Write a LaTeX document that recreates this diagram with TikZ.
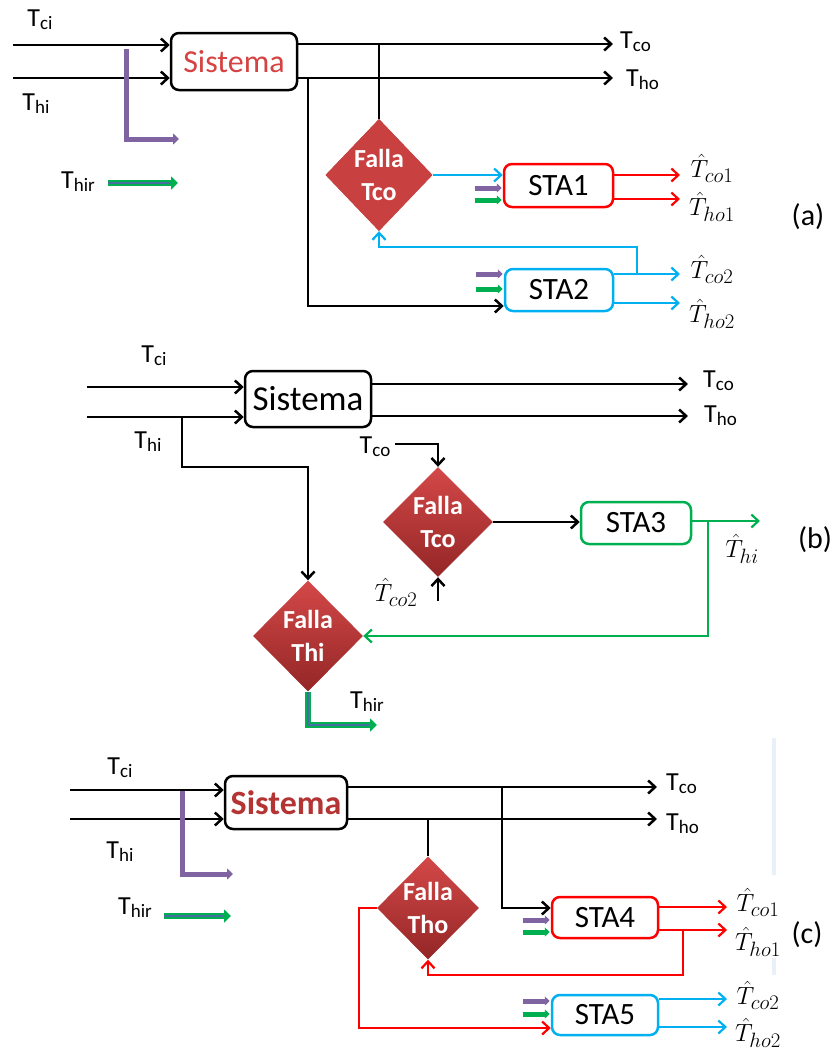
\documentclass[tikz,border=0pt]{standalone}
\usepackage{fontspec}
\setmainfont{Carlito}
\usetikzlibrary{shapes.geometric,arrows.meta}
\definecolor{cyanA}{RGB}{0,176,240}
\definecolor{redA}{RGB}{255,0,0}
\definecolor{greenA}{RGB}{0,176,80}
\definecolor{purpA}{RGB}{128,100,162}
\definecolor{sisRed}{RGB}{214,66,66}
\definecolor{sisDark}{RGB}{180,52,52}
\definecolor{dmFlat}{RGB}{200,64,64}
\definecolor{dmTop}{RGB}{212,72,72}
\definecolor{dmBot}{RGB}{148,38,38}
\definecolor{slate}{RGB}{70,110,160}
\definecolor{faint}{RGB}{234,240,247}
\newcommand{\tv}[1]{T\raisebox{-3pt}{\fontsize{19}{19}\selectfont #1}}
\begin{document}
\begin{tikzpicture}[x=1pt,y=-1pt,
 ln/.style={line width=2.5},
 arr/.style={line width=2.5,-{Straight Barb[length=7,width=13]}},
 rarr/.style={redA,line width=2.2,-{Straight Barb[length=7,width=13]}},
 carr/.style={cyanA,line width=2.2,-{Straight Barb[length=7,width=13]}},
 garr/.style={greenA,line width=2.2,-{Straight Barb[length=7,width=13]}},
 purL/.style={purpA,line width=5,-{Triangle[length=6,width=11]}},
 grL/.style={greenA,line width=6,-{Triangle[length=7,width=13]}},
 spur/.style={purpA,line width=5,-{Triangle[length=5,width=9]}},
 sgr/.style={greenA,line width=5,-{Triangle[length=5,width=9]}},
 box/.style={draw,rounded corners=8,line width=2.5,fill=white,inner sep=0,font=\fontsize{31}{32}\selectfont},
 fault/.style={diamond,inner sep=0,top color=dmTop,bottom color=dmBot,text=white,align=center,font=\bfseries\fontsize{26}{33}\selectfont},
 faultflat/.style={fault,fill=dmFlat,top color=dmFlat,bottom color=dmFlat},
 lbl/.style={inner sep=0,font=\fontsize{26}{27}\selectfont},
 hl/.style={inner sep=0,font=\fontsize{29}{30}\selectfont},
 tag/.style={inner sep=0,font=\fontsize{30}{31}\selectfont}]
\useasboundingbox (0,0) rectangle (831,1053);

%% (a)
\node[box,text=sisRed,font=\fontsize{32}{33}\selectfont,minimum width=126,minimum height=57] (sisA) at (234,61.5) {Sistema};
\node[faultflat,minimum width=107,minimum height=112] (fltA) at (379,175) {Falla\\Tco};
\node[box,draw=redA,minimum width=109,minimum height=43] (sta1) at (558.5,185.5) {STA1};
\node[box,draw=cyanA,minimum width=108,minimum height=42] (sta2) at (559,290) {STA2};
\node[lbl] (tciA) at (40,20) {\tv{ci}};
\node[lbl] (thiA) at (36,104) {\tv{hi}};
\node[lbl] (thirA) at (78,182) {\tv{hir}};
\node[lbl,anchor=west] (tcoA) at (620,42) {\tv{co}};
\node[lbl,anchor=west] (thoA) at (626,80) {\tv{ho}};
\node[hl] (hco1A) at (712,168) {$\hat{T}_{co1}$};
\node[hl] (hho1A) at (712,207) {$\hat{T}_{ho1}$};
\node[hl] (hco2A) at (712,269) {$\hat{T}_{co2}$};
\node[hl] (hho2A) at (712,314) {$\hat{T}_{ho2}$};
\node[tag] (tagA) at (808,217) {(a)};
\coordinate (sciA) at (13,45);
\coordinate (shiA) at (13,78);
\coordinate (ecoA) at (613,44);
\coordinate (ehoA) at (613,78);
\draw[arr] (sciA) -- (sciA -| sisA.west);
\draw[arr] (shiA) -- (shiA -| sisA.west);
\draw[arr] (sisA.east |- ecoA) -- (ecoA);
\draw[arr] (sisA.east |- ehoA) -- (ehoA);
\draw[ln] (fltA.north) -- (fltA.north |- ecoA);
\coordinate (brA) at (308,78);
\draw[arr] (brA) |- ([yshift=-16]sta2.west);
\draw[carr] (fltA.east) -- (fltA.east -| sta1.west);
\coordinate (eco1A) at (680,175);
\coordinate (eho1A) at (680,199);
\coordinate (eco2A) at (680,274);
\coordinate (eho2A) at (680,303);
\draw[rarr] (sta1.east |- eco1A) -- (eco1A);
\draw[rarr] (sta1.east |- eho1A) -- (eho1A);
\draw[carr] (sta2.east |- eco2A) -- (eco2A);
\draw[carr] (sta2.east |- eho2A) -- (eho2A);
\coordinate (fbA) at (637,274);
\draw[carr] (fbA) -- (fbA |- 0,247) -| (fltA.south);
\coordinate (pA1) at (126,49);
\coordinate (pA2) at (179,139);
\draw[purL] (pA1) |- (pA2);
\coordinate (gA1) at (108,183);
\coordinate (gA2) at (178,183);
\draw[grL] (gA1) -- (gA2);
\draw[slate,line width=1.5] (gA1) -- ([xshift=-8]gA2);

%% (b)
\node[box,font=\fontsize{35}{36}\selectfont,minimum width=126,minimum height=56] (sisB) at (308,399) {Sistema};
\node[fault,minimum width=110,minimum height=110] (fltB) at (438,522) {Falla\\Tco};
\node[box,draw=greenA,minimum width=110,minimum height=42] (sta3) at (636,523) {STA3};
\node[fault,minimum width=110,minimum height=111] (fltC) at (308,636) {Falla\\Thi};
\node[lbl] (tciB) at (154,356) {\tv{ci}};
\node[lbl] (thiB) at (148,442) {\tv{hi}};
\node[lbl,anchor=west] (tcoB) at (703,381) {\tv{co}};
\node[lbl,anchor=west] (thoB) at (704,416) {\tv{ho}};
\node[lbl] (tinB) at (375,447) {\tv{co}};
\node[hl] (hco2B) at (396,592) {$\hat{T}_{co2}$};
\node[hl] (hhiB) at (742,549) {$\hat{T}_{hi}$};
\node[lbl] (thirB) at (367,702) {\tv{hir}};
\node[tag] (tagB) at (815,540) {(b)};
\coordinate (sciB) at (87,387);
\coordinate (shiB) at (87,417);
\coordinate (ecoB) at (688,384);
\coordinate (ehoB) at (688,416);
\draw[arr] (sciB) -- (sciB -| sisB.west);
\draw[arr] (shiB) -- (shiB -| sisB.west);
\draw[arr] (sisB.east |- ecoB) -- (ecoB);
\draw[arr] (sisB.east |- ehoB) -- (ehoB);
\coordinate (brB) at (182,417);
\draw[arr] (brB) -- (brB |- 0,467) -| (fltC.north);
\coordinate (inB) at (395,444);
\draw[arr] (inB) -| (fltB.north);
\coordinate (in2B) at (438,601);
\draw[arr] (in2B) -- (fltB.south);
\draw[arr] (fltB.east) -- (fltB.east -| sta3.west);
\coordinate (ehiB) at (760,521);
\draw[garr] (sta3.east |- ehiB) -- (ehiB);
\coordinate (fbB) at (708,521);
\draw[garr] (fbB) |- (fltC.east);
\coordinate (thirE) at (377,725);
\draw[grL] (fltC.south) |- (thirE);
\draw[slate,line width=1.5] (fltC.south) |- ([xshift=-8]thirE);

%% (c)
\node[box,text=sisDark,font=\bfseries\fontsize{34}{35}\selectfont,minimum width=122,minimum height=53] (sisC) at (286,802.5) {Sistema};
\node[fault,minimum width=102,minimum height=103] (fltD) at (428,908) {Falla\\Tho};
\node[box,draw=redA,minimum width=106,minimum height=41] (sta4) at (605,917.5) {STA4};
\node[box,draw=cyanA,minimum width=106,minimum height=40] (sta5) at (605,1015) {STA5};
\node[lbl] (tciC) at (120,768) {\tv{ci}};
\node[lbl] (thiC) at (120,852) {\tv{hi}};
\node[lbl] (thirC) at (135,908) {\tv{hir}};
\node[lbl,anchor=west] (tcoC) at (666,784) {\tv{co}};
\node[lbl,anchor=west] (thoC) at (666,824) {\tv{ho}};
\node[hl] (hco1C) at (758,902) {$\hat{T}_{co1}$};
\node[hl] (hho1C) at (758,942) {$\hat{T}_{ho1}$};
\node[hl] (hco2C) at (758,995) {$\hat{T}_{co2}$};
\node[hl] (hho2C) at (758,1033) {$\hat{T}_{ho2}$};
\node[tag] (tagC) at (807,935) {(c)};
\coordinate (sciC) at (70,790);
\coordinate (shiC) at (70,819);
\coordinate (ecoC) at (657,787);
\coordinate (ehoC) at (657,819);
\draw[arr] (sciC) -- (sciC -| sisC.west);
\draw[arr] (shiC) -- (shiC -| sisC.west);
\draw[arr] (sisC.east |- ecoC) -- (ecoC);
\draw[arr] (sisC.east |- ehoC) -- (ehoC);
\draw[ln] (fltD.north) -- (fltD.north |- ehoC);
\coordinate (brC) at (502,787);
\draw[arr] (brC) |- ([yshift=9.5]sta4.west);
\coordinate (eco1C) at (727,907);
\coordinate (eho1C) at (727,930);
\coordinate (eco2C) at (727,999);
\coordinate (eho2C) at (727,1027);
\draw[rarr] (sta4.east |- eco1C) -- (eco1C);
\draw[rarr] (sta4.east |- eho1C) -- (eho1C);
\draw[carr] (sta5.east |- eco2C) -- (eco2C);
\draw[carr] (sta5.east |- eho2C) -- (eho2C);
\coordinate (fbC) at (683,930);
\draw[rarr] (fbC) -- (fbC |- 0,975) -| (fltD.south);
\draw[rarr] (fltD.west) -- ++(-18,0) |- ([yshift=-13]sta5.west);
\coordinate (pC1) at (182,791);
\coordinate (pC2) at (233,874);
\draw[purL] (pC1) |- (pC2);
\coordinate (gC1) at (164,916);
\coordinate (gC2) at (231,916);
\draw[grL] (gC1) -- (gC2);
\draw[slate,line width=1.5] (gC1) -- ([xshift=-8]gC2);
\draw[faint,line width=4] (774,738) -- (774,875) (774,958) -- (774,975);

% small input pairs
\foreach \b/\p/\g in {sta1/188/200,sta2/274/289,sta4/920/932,sta5/1001/1014}
{\draw[spur] (\b.west |- 0,\p) ++(-28,0) -- +(27,0);
 \draw[sgr] (\b.west |- 0,\g) ++(-28,0) -- +(27,0);
}
\end{tikzpicture}
\end{document}
